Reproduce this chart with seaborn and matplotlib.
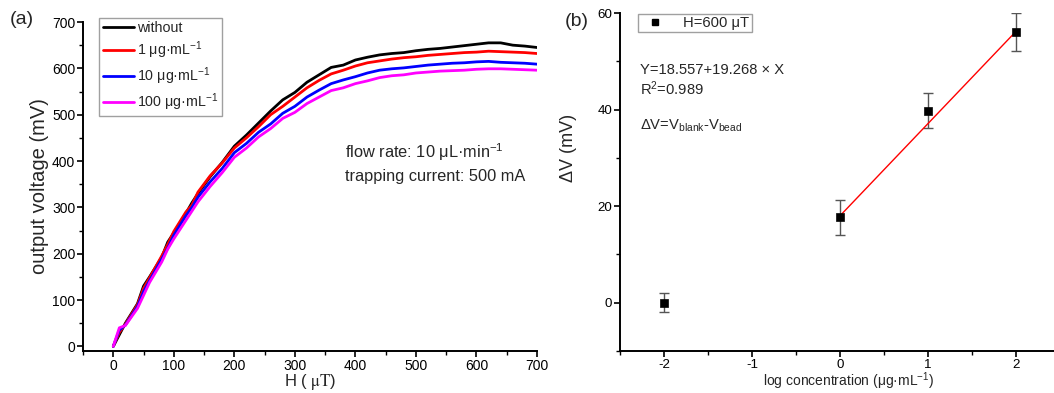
import numpy as np
import pandas as pd
import seaborn as sns
import matplotlib.pyplot as plt
import matplotlib.transforms as mtransforms
from matplotlib.ticker import MultipleLocator
from matplotlib.lines import Line2D

# ---- data (a): output voltage vs field ----
H = [0, 10, 20, 40, 50, 60, 80, 90, 100, 120, 130, 140, 160, 180, 200, 220, 240, 260, 280, 300, 320, 340,
     360, 380, 400, 420, 440, 460, 480, 500, 520, 540, 560, 580, 600, 620, 640, 660, 680, 700]
v_without = [0, 25, 50, 92, 130, 150, 192, 225, 245, 287, 310, 330, 366, 397, 432, 456, 482, 508, 532, 548, 570, 586,
             602, 607, 618, 624, 629, 632, 634, 638, 641, 643, 646, 649, 652, 655, 655, 650, 648, 645]
v_1 = [0, 30, 48, 90, 125, 148, 195, 220, 248, 290, 305, 333, 368, 396, 428, 450, 474, 500, 518, 538, 558, 574,
       588, 596, 605, 612, 616, 620, 623, 625, 628, 630, 632, 634, 635, 637, 636, 635, 634, 632]
v_10 = [0, 35, 46, 86, 118, 142, 188, 212, 240, 282, 300, 322, 355, 384, 418, 438, 462, 480, 503, 518, 538, 553,
        567, 575, 582, 590, 596, 599, 601, 604, 607, 609, 611, 612, 614, 615, 613, 612, 611, 609]
v_100 = [0, 40, 45, 82, 110, 138, 182, 210, 232, 272, 292, 312, 345, 375, 408, 428, 452, 470, 492, 505, 524, 538,
         552, 558, 567, 573, 580, 584, 586, 590, 592, 594, 595, 596, 598, 599, 599, 598, 597, 596]
series_names = ["without", "1 μg·mL$^{-1}$", "10 μg·mL$^{-1}$", "100 μg·mL$^{-1}$"]
series_colors = ["#000000", "#ff0000", "#0000ff", "#ff00ff"]

# ---- data (b): delta V vs log concentration ----
log_conc = [-2, 0, 1, 2]
delta_v = [0.0, 17.7, 39.8, 56.0]
delta_err = [2.0, 3.6, 3.7, 3.9]
fit_x = [0, 2]
fit_y = [18.0, 56.2]

sns.set_style("ticks")
plt.rcParams['font.family'] = ['Liberation Sans', 'DejaVu Sans']
plt.rcParams['mathtext.fontset'] = 'custom'
plt.rcParams['mathtext.rm'] = 'Liberation Sans'
plt.rcParams['mathtext.it'] = 'Liberation Sans:italic'
plt.rcParams['mathtext.bf'] = 'Liberation Sans:bold'
plt.rcParams['axes.unicode_minus'] = False

fig = plt.figure(figsize=(10.54, 3.93), dpi=100)
W, Hh = 1054, 393
ax1 = fig.add_axes([83 / W, 1 - 351 / Hh, (537 - 83) / W, (351 - 22) / Hh])
ax2 = fig.add_axes([620 / W, 1 - 351 / Hh, 440 / W, (351 - 13) / Hh])

rows = []
for name, vals in zip(series_names, [v_without, v_1, v_10, v_100]):
    for h, v in zip(H, vals):
        rows.append((h, v, name))
df = pd.DataFrame(rows, columns=["H", "V", "sample"])

sns.lineplot(data=df, x="H", y="V", hue="sample", hue_order=series_names,
             palette=series_colors, linewidth=2.0, ax=ax1, legend=False)

handles = [Line2D([], [], color=c, lw=2.0) for c in series_colors]
leg = ax1.legend(handles, series_names, loc="upper left", bbox_to_anchor=(0.02, 1.035),
                 fontsize=10.3, frameon=True, fancybox=False, edgecolor="#888888",
                 handlelength=2.2, handletextpad=0.2, borderpad=0.25, labelspacing=0.3)
leg.get_frame().set_linewidth(1.0)

ax1.set_xlim(-50, 700)
ax1.set_ylim(-10, 700)
ax1.xaxis.set_major_locator(MultipleLocator(100))
ax1.xaxis.set_minor_locator(MultipleLocator(50))
ax1.yaxis.set_major_locator(MultipleLocator(100))
ax1.yaxis.set_minor_locator(MultipleLocator(50))
ax1.set_xlabel("H ( $\\mathrm{\\mu T}$)", fontsize=12, math_fontfamily='stix', va="bottom")
ax1.set_ylabel("output voltage (mV)", fontsize=14.5, labelpad=2)
ax1.text(382, 420, "flow rate: 10 μL·min$^{-1}$", fontsize=11.8, va="center")
ax1.text(382, 366, "trapping current: 500 mA", fontsize=11.8, va="center")
fig.text(10 / W, 1 - 20 / Hh, "(a)", fontsize=14, va="center")

# panel b
ax2.errorbar(log_conc, delta_v, yerr=delta_err, fmt="none", ecolor="#555555",
             elinewidth=1.0, capsize=3.5, capthick=1.0, zorder=2)
sns.lineplot(x=fit_x, y=fit_y, color="#ff0000", linewidth=1.0, ax=ax2, zorder=3)
sns.scatterplot(x=log_conc, y=delta_v, marker="s", s=36, color="black",
                edgecolor="black", ax=ax2, zorder=4)
h2 = [Line2D([], [], marker="s", ls="none", color="black", markersize=5)]
leg2 = ax2.legend(h2, ["H=600 μT"], loc="upper left", bbox_to_anchor=(0.025, 1.02),
                  fontsize=10.6, frameon=True, fancybox=False, edgecolor="#888888",
                  handletextpad=0.9, borderpad=0.15)
leg2.get_frame().set_linewidth(1.0)

ax2.set_xlim(-2.5, 2.5)
ax2.set_ylim(-10, 60)
ax2.xaxis.set_major_locator(MultipleLocator(1))
ax2.xaxis.set_minor_locator(MultipleLocator(0.5))
ax2.yaxis.set_major_locator(MultipleLocator(20))
ax2.yaxis.set_minor_locator(MultipleLocator(10))
ax2.set_xlabel("log concentration (μg·mL$^{-1}$)", fontsize=10, va="bottom")
ax2.set_ylabel("ΔV (mV)", fontsize=13, labelpad=6)
ax2.yaxis.set_label_coords(-0.098, 0.6)
ax2.text(-2.27, 48.2, "Y=18.557+19.268 × X", fontsize=10.6, va="center")
ax2.text(-2.27, 44.4, "R$^{2}$=0.989", fontsize=10.6, va="center")
ax2.text(-2.27, 36.7, "ΔV=V$_{\\mathrm{blank}}$-V$_{\\mathrm{bead}}$", fontsize=10.6, va="center")
fig.text(565 / W, 1 - 22 / Hh, "(b)", fontsize=14, va="center")

# x labels pinned near the bottom edge, as in the original layout
for ax, xc in ((ax1, 0.5), (ax2, 0.52)):
    tr = mtransforms.blended_transform_factory(ax.transAxes, fig.transFigure)
    ax.xaxis.set_label_coords(xc, 1 / Hh, transform=tr)

for ax, ls in ((ax1, 10), (ax2, 9.6)):
    sns.despine(ax=ax)
    for s in ("left", "bottom"):
        ax.spines[s].set_linewidth(1.4)
        ax.spines[s].set_color("black")
    ax.tick_params(which="major", direction="out", length=4.5, width=1.2, colors="black",
                   labelsize=ls, pad=1)
    ax.tick_params(which="minor", direction="out", length=3, width=1.0, colors="black")

fig.savefig("out.png", dpi=100)
